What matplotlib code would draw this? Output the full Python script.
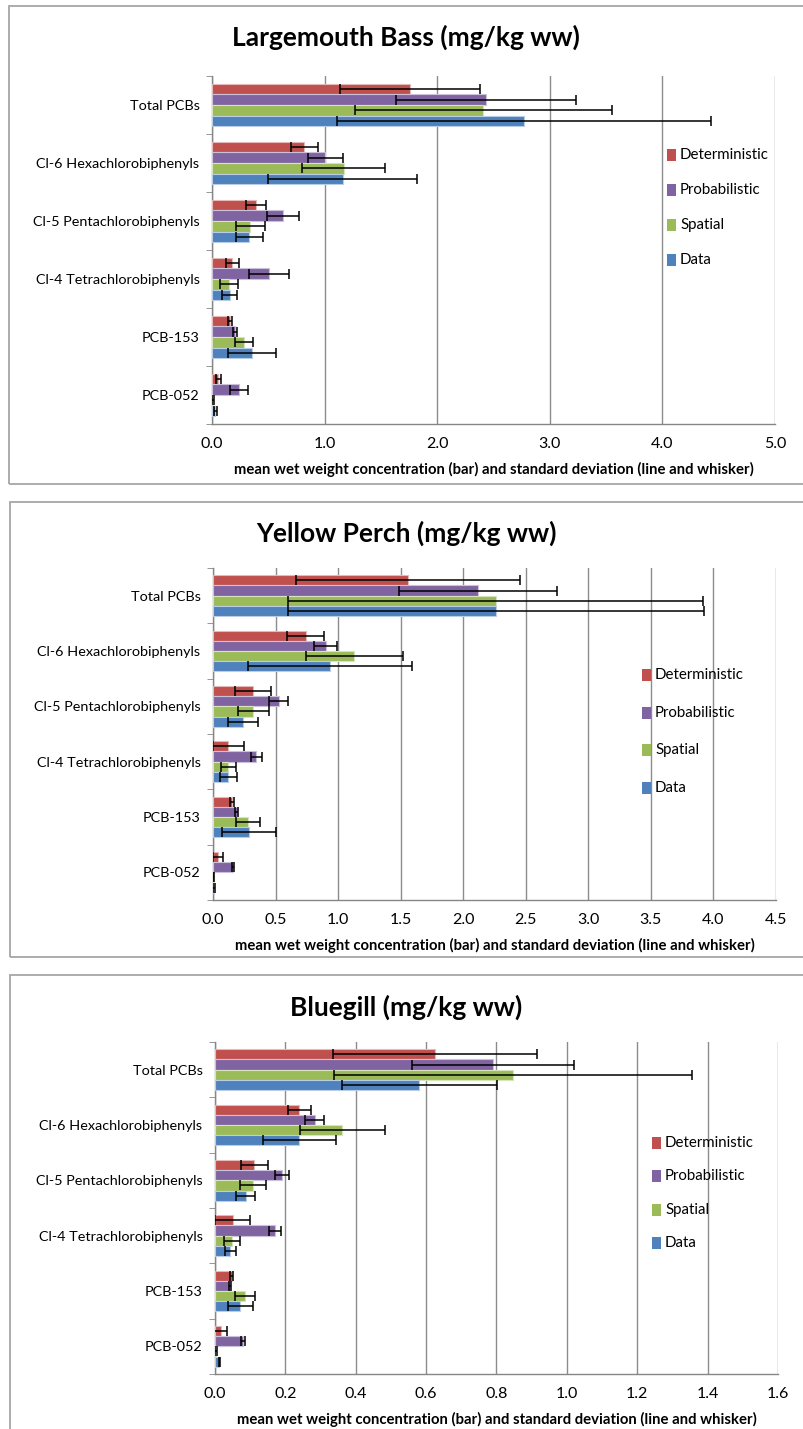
import matplotlib
matplotlib.use("Agg")
import matplotlib.pyplot as plt
import numpy as np
from matplotlib.patches import Rectangle

plt.rcParams['font.family'] = ['Lato', 'DejaVu Sans']

categories = ['Total PCBs', 'Cl-6 Hexachlorobiphenyls', 'Cl-5 Pentachlorobiphenyls',
              'Cl-4 Tetrachlorobiphenyls', 'PCB-153', 'PCB-052']
series = ['Deterministic', 'Probabilistic', 'Spatial', 'Data']
colors = ['#C0504D', '#8064A2', '#9BBB59', '#4F81BD']
edge_colors = ['#E6B9B8', '#CCC1DA', '#D7E4BD', '#B9CDE5']

# mean concentrations, one list per series, categories in the order above
bass_mean = {
    'Deterministic': [1.76, 0.82, 0.39, 0.18, 0.163, 0.056],
    'Probabilistic': [2.43, 1.005, 0.63, 0.505, 0.204, 0.24],
    'Spatial':       [2.41, 1.17, 0.34, 0.148, 0.28, 0.012],
    'Data':          [2.77, 1.16, 0.33, 0.157, 0.355, 0.03],
}
bass_sd = {
    'Deterministic': [0.62, 0.12, 0.09, 0.057, 0.018, 0.02],
    'Probabilistic': [0.80, 0.155, 0.145, 0.18, 0.018, 0.08],
    'Spatial':       [1.14, 0.37, 0.13, 0.08, 0.08, 0.01],
    'Data':          [1.66, 0.66, 0.12, 0.067, 0.21, 0.01],
}

perch_mean = {
    'Deterministic': [1.557, 0.74, 0.322, 0.123, 0.152, 0.04],
    'Probabilistic': [2.117, 0.90, 0.525, 0.346, 0.189, 0.16],
    'Spatial':       [2.258, 1.129, 0.322, 0.123, 0.28, 0.006],
    'Data':          [2.263, 0.937, 0.24, 0.123, 0.288, 0.008],
}
perch_sd = {
    'Deterministic': [0.896, 0.145, 0.144, 0.125, 0.015, 0.04],
    'Probabilistic': [0.63, 0.09, 0.074, 0.044, 0.012, 0.01],
    'Spatial':       [1.66, 0.386, 0.122, 0.063, 0.097, 0.004],
    'Data':          [1.66, 0.656, 0.118, 0.068, 0.218, 0.01],
}

bluegill_mean = {
    'Deterministic': [0.625, 0.2395, 0.112, 0.05, 0.047, 0.016],
    'Probabilistic': [0.789, 0.283, 0.191, 0.17, 0.043, 0.08],
    'Spatial':       [0.847, 0.362, 0.108, 0.048, 0.085, 0.004],
    'Data':          [0.581, 0.2395, 0.087, 0.044, 0.072, 0.012],
}
bluegill_sd = {
    'Deterministic': [0.29, 0.032, 0.039, 0.05, 0.004, 0.018],
    'Probabilistic': [0.23, 0.027, 0.02, 0.017, 0.003, 0.005],
    'Spatial':       [0.51, 0.12, 0.038, 0.023, 0.029, 0.003],
    'Data':          [0.22, 0.103, 0.027, 0.015, 0.036, 0.002],
}

titles = ['Largemouth Bass (mg/kg ww)', 'Yellow Perch (mg/kg ww)', 'Bluegill (mg/kg ww)']
xlabel = 'mean wet weight concentration (bar) and standard deviation (line and whisker)'
x_ticks = [np.arange(0, 5.01, 1.0), np.arange(0, 4.51, 0.5), np.arange(0, 1.61, 0.2)]

W, H = 804, 1429

# pixel boxes: panel border (left, top, bottom), axes (left, right, top, bottom),
# title y, legend patch x, first legend row y, legend row step
layout = [
    dict(border=(9, 6, 484), ax=(212, 775, 76, 424), title_y=37, leg_x=667, leg_y=155, leg_dy=35),
    dict(border=(10, 502, 957), ax=(213, 776, 568, 900), title_y=533, leg_x=642, leg_y=675, leg_dy=37.7),
    dict(border=(10, 975, 1440), ax=(215, 778, 1042, 1374), title_y=1007, leg_x=652, leg_y=1143, leg_dy=33.3),
]


def fx(x):
    return x / W


def fy(y):
    return 1 - y / H


fig = plt.figure(figsize=(W / 100, H / 100), dpi=100)

panels = [(bass_mean, bass_sd), (perch_mean, perch_sd), (bluegill_mean, bluegill_sd)]

for p, (means, sds) in enumerate(panels):
    lay = layout[p]
    bl, bt, bb = lay['border']
    fig.patches.append(Rectangle((fx(bl), fy(bb)), fx(810) - fx(bl), fy(bt) - fy(bb),
                                 transform=fig.transFigure, fill=False,
                                 edgecolor='#A6A6A6', linewidth=1.3))

    al, ar, at, ab = lay['ax']
    ax = fig.add_axes([fx(al), fy(ab), fx(ar) - fx(al), fy(at) - fy(ab)])

    n = len(categories)
    ypos = np.arange(n)[::-1]
    h = 0.185
    offsets = [1.5 * h, 0.5 * h, -0.5 * h, -1.5 * h]
    for i, s in enumerate(series):
        ax.barh(ypos + offsets[i], means[s], height=h, color=colors[i],
                edgecolor=edge_colors[i], linewidth=0.8, zorder=3)
        ax.errorbar(means[s], ypos + offsets[i], xerr=sds[s], fmt='none',
                    ecolor='black', elinewidth=1.1, capsize=3.5, capthick=1.1, zorder=4)

    xt = x_ticks[p]
    ax.set_xlim(0, xt[-1])
    ax.set_ylim(-0.5, n - 0.5)
    ax.set_xticks(xt)
    ax.set_xticklabels(['%.1f' % v for v in xt], fontsize=11.5)
    ax.tick_params(axis='x', length=0, pad=9)
    ax.set_yticks(ypos)
    ax.set_yticklabels(categories, fontsize=10.4)
    ax.tick_params(axis='y', which='major', length=0, pad=9)
    ax.set_yticks(np.arange(-0.5, n, 1.0), minor=True)
    ax.tick_params(axis='y', which='minor', length=4, color='#868686', direction='out')
    ax.grid(axis='x', color='#8C8C8C', linewidth=1.0, zorder=0)
    for side in ['top', 'right']:
        ax.spines[side].set_visible(False)
    for side in ['left', 'bottom']:
        ax.spines[side].set_color('#868686')
        ax.spines[side].set_linewidth(1.0)
    ax.set_xlabel(xlabel, fontsize=10.7, fontweight='bold', labelpad=8)

    fig.text(fx((bl + 803) / 2), fy(lay['title_y']), titles[p], ha='center', va='center',
             fontsize=19, fontweight='bold')

    for i, s in enumerate(series):
        yy = lay['leg_y'] + i * lay['leg_dy']
        fig.patches.append(Rectangle((fx(lay['leg_x']), fy(yy + 6)), 9 / W, 12 / H,
                                     transform=fig.transFigure, facecolor=colors[i],
                                     edgecolor='none'))
        fig.text(fx(lay['leg_x'] + 13), fy(yy), s, ha='left', va='center', fontsize=10.8)

fig.savefig('out.png', dpi=100)
